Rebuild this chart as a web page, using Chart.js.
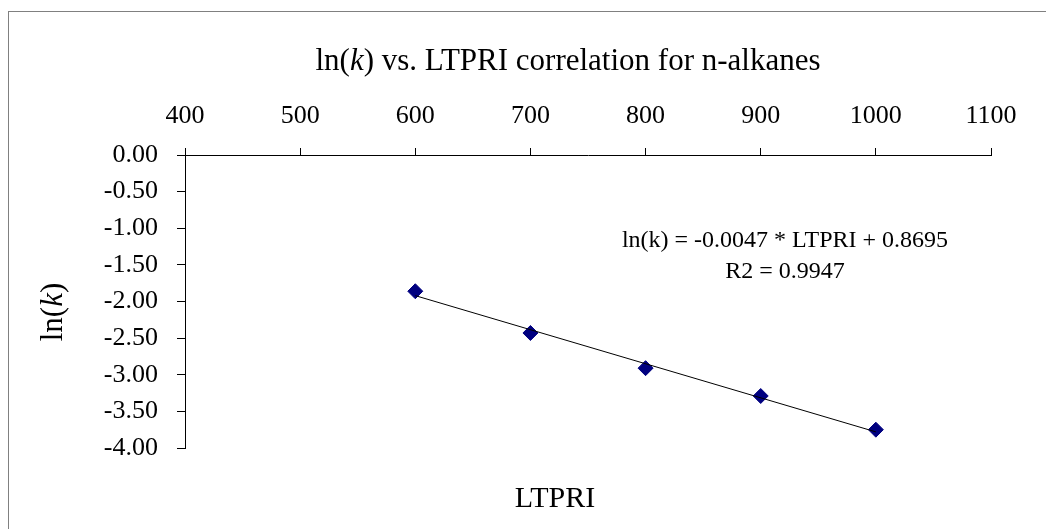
<!DOCTYPE html>
<html>
<head>
<meta charset="utf-8">
<script src="https://cdn.jsdelivr.net/npm/chart.js@4/dist/chart.umd.min.js"></script>
<style>
  body { margin: 0; background: #fff; }
  canvas { display: block; }
</style>
</head>
<body>
<canvas id="myChart" width="1046" height="529"></canvas>
<script>
const ltpri = [600, 700, 800, 900, 1000];
const lnK = [-1.86, -2.43, -2.91, -3.29, -3.75];
const trendX = [600, 1000];
const trendY = [-1.92, -3.78];
const equationLines = ["ln(k) = -0.0047 * LTPRI + 0.8695", "R2 = 0.9947"];

const serif = "'Liberation Serif', 'Times New Roman', serif";

// draws one line of text made of [text, italic] parts, centred on x
function drawParts(ctx, parts, x, y, size) {
  let total = 0;
  const widths = parts.map(function(p) {
    ctx.font = (p[1] ? "italic " : "") + size + "px " + serif;
    const w = ctx.measureText(p[0]).width;
    total += w;
    return w;
  });
  let cx = x - total / 2;
  parts.forEach(function(p, i) {
    ctx.font = (p[1] ? "italic " : "") + size + "px " + serif;
    ctx.fillText(p[0], cx, y);
    cx += widths[i];
  });
}

const textPlugin = {
  id: "texts",
  beforeDraw(chart) {
    const ctx = chart.ctx;
    ctx.save();
    ctx.strokeStyle = "#808080";
    ctx.lineWidth = 1;
    ctx.strokeRect(8.5, 11.5, 2000, 2000);
    ctx.restore();
  },
  afterDraw(chart) {
    const ctx = chart.ctx;
    ctx.save();
    ctx.fillStyle = "#000";
    ctx.textAlign = "left";
    ctx.textBaseline = "alphabetic";

    drawParts(ctx, [["ln(", false], ["k", true], [") vs. LTPRI correlation for n-alkanes", false]], 568, 70, 31);
    drawParts(ctx, [["LTPRI", false]], 555, 507, 30);

    ctx.save();
    ctx.translate(62, 312);
    ctx.rotate(-Math.PI / 2);
    drawParts(ctx, [["ln(", false], ["k", true], [")", false]], 0, 0, 31);
    ctx.restore();

    drawParts(ctx, [[equationLines[0], false]], 785, 247, 24);
    drawParts(ctx, [[equationLines[1], false]], 785, 278, 24);
    ctx.restore();
  }
};

new Chart("myChart", {
  type: "scatter",
  data: {
    datasets: [
      {
        type: "line",
        data: trendX.map(function(x, i) { return { x: x, y: trendY[i] }; }),
        borderColor: "#000",
        borderWidth: 1,
        pointRadius: 0,
        fill: false,
        order: 0
      },
      {
        data: ltpri.map(function(x, i) { return { x: x, y: lnK[i] }; }),
        pointStyle: "rectRot",
        pointRadius: 7.5,
        backgroundColor: "#000080",
        borderColor: "#000080",
        borderWidth: 1,
        order: 1
      }
    ]
  },
  options: {
    responsive: false,
    animation: false,
    layout: { padding: { left: 0, top: 0, right: 55, bottom: 81 } },
    plugins: {
      legend: { display: false },
      tooltip: { enabled: false },
      title: { display: false }
    },
    scales: {
      x: {
        type: "linear",
        position: "top",
        min: 400,
        max: 1100,
        afterFit: function(scale) { scale.height = 155; },
        ticks: {
          stepSize: 100,
          color: "#000",
          padding: 16,
          font: { family: serif, size: 26 },
          callback: function(v) { return String(v); }
        },
        grid: { drawOnChartArea: false, drawTicks: true, tickLength: 7, color: "#000" },
        border: { color: "#000", width: 1 }
      },
      y: {
        min: -4,
        max: 0,
        afterFit: function(scale) { scale.width = 185; },
        ticks: {
          stepSize: 0.5,
          color: "#000",
          padding: 19,
          font: { family: serif, size: 26 },
          callback: function(v) { return v.toFixed(2); }
        },
        grid: { drawOnChartArea: false, drawTicks: true, tickLength: 8, color: "#000" },
        border: { color: "#000", width: 1 }
      }
    }
  },
  plugins: [textPlugin]
});
</script>
</body>
</html>
